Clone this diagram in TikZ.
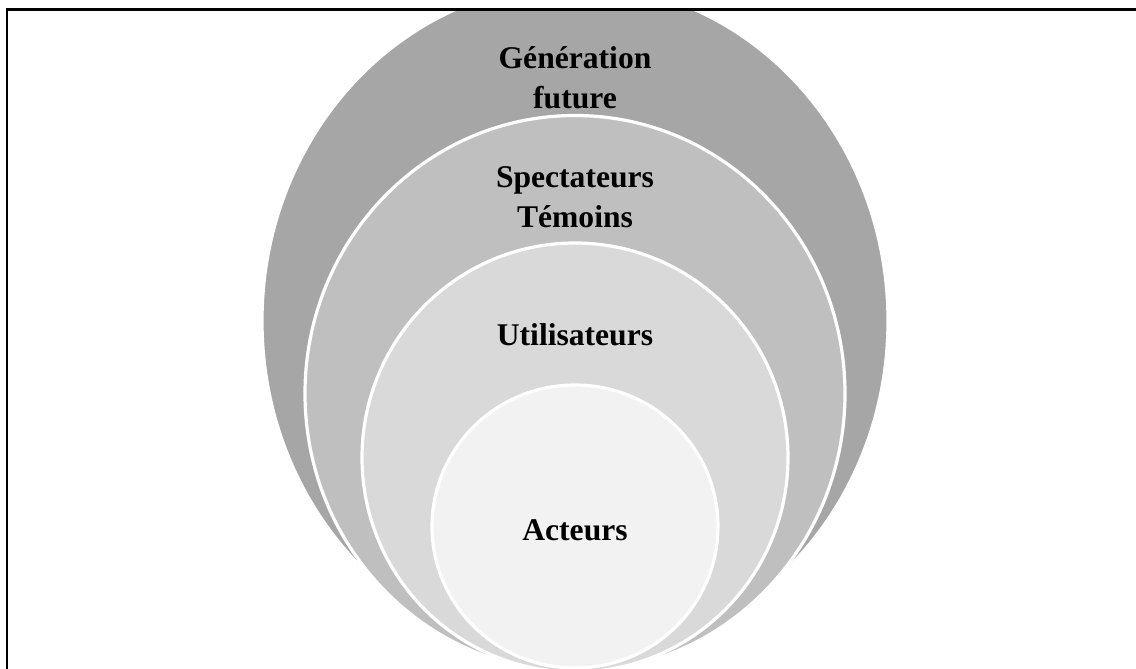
\documentclass[tikz,border=0pt]{standalone}
\usepackage{fontspec}
\setmainfont{Liberation Serif}
\usetikzlibrary{shapes.geometric}

\definecolor{ringA}{HTML}{A6A6A6}
\definecolor{ringB}{HTML}{BFBFBF}
\definecolor{ringC}{HTML}{D9D9D9}
\definecolor{ringD}{HTML}{F2F2F2}

\begin{document}
\begin{tikzpicture}[x=0.5pt,y=0.5pt,
  ring node/.style={ellipse,draw=white,line width=1.6pt,inner sep=0pt},
  label node/.style={align=center,font=\fontsize{15.8}{20}\selectfont\bfseries}]

  \useasboundingbox (0,0) rectangle (1136,669);

  \begin{scope}
    \clip (7,0) rectangle (1136,659.5);
    \node[ring node, fill=ringA, minimum width=313pt, minimum height=337pt] (gen) at (575,348) {};
    \node[ring node, fill=ringB, minimum width=270pt, minimum height=278pt] (spec) at (575,275.5) {};
    \node[ring node, fill=ringC, minimum width=213pt, minimum height=214.5pt] (util) at (575,211.5) {};
    \node[ring node, fill=ringD, minimum width=143pt, minimum height=141.5pt] (act) at (575,142.5) {};
  \end{scope}

  \node[label node] (genl) at (575,591) {Génération\\future};
  \node[label node] (specl) at (575,472) {Spectateurs\\Témoins};
  \node[label node] (utill) at (575,334) {Utilisateurs};
  \node[label node] (actl) at (575,139) {Acteurs};

  % frame
  \draw[line width=1.1pt] (7,0) -- (7,659.5) -- (1136,659.5);
\end{tikzpicture}
\end{document}
